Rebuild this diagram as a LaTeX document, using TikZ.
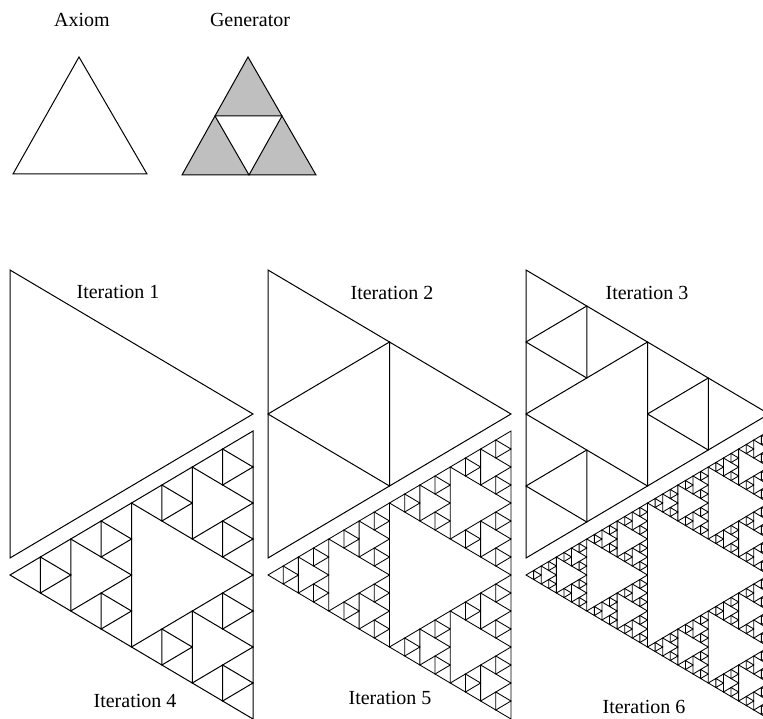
\documentclass[tikz,border=0pt]{standalone}
\usepackage{fontspec}
\setmainfont{Liberation Serif}
\usetikzlibrary{positioning}

% recursive subdivision: level, then three corners (x,y)
\newcommand\sierptri[7]{%
  \ifnum#1=0\relax
    \draw[fracline] (#2,#3) -- (#4,#5) -- (#6,#7) -- cycle;
  \else
    \begingroup
    \pgfmathtruncatemacro\lvl{#1-1}%
    \pgfmathsetmacro\mxab{(#2+#4)/2}\pgfmathsetmacro\myab{(#3+#5)/2}%
    \pgfmathsetmacro\mxbc{(#4+#6)/2}\pgfmathsetmacro\mybc{(#5+#7)/2}%
    \pgfmathsetmacro\mxca{(#6+#2)/2}\pgfmathsetmacro\myca{(#7+#3)/2}%
    \edef\dosub{%
      \noexpand\sierptri{\lvl}{#2}{#3}{\mxab}{\myab}{\mxca}{\myca}%
      \noexpand\sierptri{\lvl}{\mxab}{\myab}{#4}{#5}{\mxbc}{\mybc}%
      \noexpand\sierptri{\lvl}{\mxca}{\myca}{\mxbc}{\mybc}{#6}{#7}}%
    \dosub
    \endgroup
  \fi}

\begin{document}
\begin{tikzpicture}[
  x=1pt, y=-1pt,
  fracline/.style={draw=black, line width=1pt, line join=miter},
  outline/.style={draw=black, line width=1pt},
  shaded/.style={draw=black, line width=1pt, fill=gray!50},
  lbl/.style={font=\fontsize{20}{22}\selectfont, inner sep=0pt}
]
\useasboundingbox (0,0) rectangle (763,719);
\clip (0,0) rectangle (763,719);

% Axiom and Generator
\node[lbl] (axiom) at (82,20) {Axiom};
\node[lbl] (generator) at (250,20) {Generator};
\draw[outline] (79,57) -- (147,174) -- (13,174) -- cycle;
\draw[shaded] (248,57) -- (282,116) -- (215,116) -- cycle;
\draw[shaded] (215,116) -- (249,175) -- (182,175) -- cycle;
\draw[shaded] (282,116) -- (316,175) -- (249,175) -- cycle;

% Iterations 1-3 (upper row, apex to the right)
\sierptri{0}{10}{270}{10}{558}{253}{414}
\sierptri{1}{268}{270}{268}{558}{511}{414}
\sierptri{2}{526}{270}{526}{558}{769}{414}

% Iterations 4-6 (lower row, apex to the left)
\sierptri{3}{10}{575}{253}{431}{253}{719}
\begin{scope}[fracline/.append style={line width=0.85pt}]
\sierptri{4}{268}{575}{511}{431}{511}{719}
\sierptri{5}{526}{575}{769}{431}{769}{719}
\end{scope}

% Labels
\node[lbl] (it1) at (118,292) {Iteration 1};
\node[lbl] (it2) at (392,293) {Iteration 2};
\node[lbl] (it3) at (647,293) {Iteration 3};
\node[lbl] (it4) at (135,701) {Iteration 4};
\node[lbl] (it5) at (390,698) {Iteration 5};
\node[lbl] (it6) at (644,707) {Iteration 6};
\end{tikzpicture}
\end{document}
